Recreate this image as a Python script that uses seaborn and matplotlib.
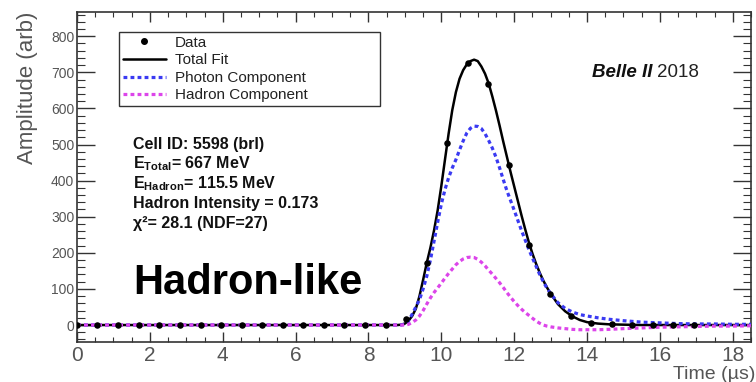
import matplotlib
matplotlib.use("Agg")
import matplotlib.pyplot as plt
import pandas as pd
import seaborn as sns
from matplotlib.ticker import MultipleLocator
from matplotlib.lines import Line2D

# ---------------- data ----------------
sample_time = [0.00, 0.56, 1.13, 1.69, 2.26, 2.82, 3.39, 3.95, 4.52, 5.08,
               5.65, 6.21, 6.78, 7.34, 7.90, 8.47, 9.03, 9.60, 10.16, 10.73,
               11.29, 11.86, 12.42, 12.99, 13.55, 14.12, 14.68, 15.24, 15.81,
               16.37, 16.94]
sample_amp = [1, 0, 1, 0, -1, 1, 0, 0, 1, -1,
              0, 1, 0, 0, 1, 0, 16, 172, 505, 727,
              667, 442, 222, 86, 25, 6, 2, 1, 0,
              1, 0]

curve_time = [0.0, 8.8, 8.9, 9.0, 9.1, 9.2, 9.3, 9.4, 9.5, 9.6, 9.7, 9.8, 9.9,
              10.0, 10.1, 10.2, 10.3, 10.4, 10.5, 10.6, 10.7, 10.8, 10.9,
              11.0, 11.1, 11.2, 11.3, 11.4, 11.5, 11.6, 11.7, 11.8, 11.9,
              12.0, 12.1, 12.2, 12.3, 12.4, 12.5, 12.6, 12.7, 12.8, 12.9,
              13.0, 13.2, 13.4, 13.6, 13.8, 14.0, 14.3, 14.6, 15.0, 15.5,
              16.0, 16.5, 17.0, 17.5, 18.0, 18.5]
total_fit = [0, 0, 1, 4, 12, 25, 45, 80, 125, 172, 214, 262, 318,
             385, 458, 530, 595, 645, 682, 706, 722, 731, 735,
             731, 716, 696, 669, 633, 594, 552, 508, 466, 424,
             384, 344, 304, 266, 230, 198, 170, 145, 123, 104,
             87, 58, 38, 24, 14, 8, 4, 2, 1, 0,
             0, 0, 0, 0, 0, 0]
photon_comp = [0, 0, 0, 3, 12, 30, 50, 70, 100, 135, 180, 232, 285,
               335, 375, 408, 435, 458, 485, 510, 532, 545, 551,
               550, 544, 530, 511, 490, 465, 435, 403, 372, 345,
               318, 290, 262, 236, 210, 186, 163, 140, 120, 102,
               87, 62, 46, 36, 29, 25, 20, 16, 12, 8,
               6, 4, 3, 3, 2, 2]
hadron_comp = [0, 0, 0, 0, 2, 7, 14, 25, 40, 58, 75, 90, 103,
               116, 130, 143, 155, 167, 176, 183, 187, 188, 187,
               182, 174, 164, 152, 141, 129, 117, 104, 90, 77,
               65, 54, 44, 35, 27, 19, 11, 5, 0, -3,
               -5, -8, -10, -12, -13, -13, -13, -12, -10, -8,
               -6, -5, -4, -3, -3, -2]

legend_labels = ["Data", "Total Fit", "Photon Component", "Hadron Component"]
info_lines = ["Cell ID: 5598 (brl)",
              r"$\mathbf{E}_{\mathbf{Total}}$= 667 MeV",
              r"$\mathbf{E}_{\mathbf{Hadron}}$= 115.5 MeV",
              "Hadron Intensity = 0.173",
              "\u03c7\u00b2= 28.1 (NDF=27)"]

BLUE = "#3a3af2"
MAGENTA = "#dc45ea"
GREY = "#555555"

# ---------------- style ----------------
sns.set_theme(style="ticks")
plt.rcParams["font.family"] = ["Liberation Sans", "DejaVu Sans"]
plt.rcParams["mathtext.fontset"] = "custom"
plt.rcParams["mathtext.rm"] = "Liberation Sans"
plt.rcParams["mathtext.bf"] = "Liberation Sans:bold"
plt.rcParams["mathtext.it"] = "Liberation Sans:italic"

W, H = 756, 382
fig = plt.figure(figsize=(W / 100, H / 100), dpi=100)
ax = fig.add_axes([77 / W, 1 - 342 / H, 674 / W, 330 / H])


def fx(px):
    return px / W


def fy(py):
    return 1 - py / H


curves = pd.DataFrame({"t": curve_time, "total": total_fit,
                       "photon": photon_comp, "hadron": hadron_comp})
samples = pd.DataFrame({"t": sample_time, "amp": sample_amp})

sns.lineplot(data=curves, x="t", y="total", ax=ax, color="black",
             lw=1.8, zorder=3)
sns.lineplot(data=curves, x="t", y="photon", ax=ax, color=BLUE,
             lw=2.3, linestyle=(0, (1.2, 1.0)), zorder=4)
sns.lineplot(data=curves, x="t", y="hadron", ax=ax, color=MAGENTA,
             lw=2.3, linestyle=(0, (1.2, 1.0)), zorder=4)
sns.scatterplot(data=samples, x="t", y="amp", ax=ax, color="black",
                s=22, linewidth=0, zorder=5)

ax.set_xlim(0, 18.5)
ax.set_ylim(-47, 867)
ax.set_xlabel("")
ax.set_ylabel("")
ax.grid(False)

ax.xaxis.set_major_locator(MultipleLocator(2))
ax.xaxis.set_minor_locator(MultipleLocator(0.5))
ax.yaxis.set_major_locator(MultipleLocator(100))
ax.yaxis.set_minor_locator(MultipleLocator(20))

ax.tick_params(which="both", direction="in", top=True, right=True,
               color="#333333", labelcolor=GREY)
ax.tick_params(axis="x", which="major", length=7, width=1.0,
               labelsize=15, pad=3)
ax.tick_params(axis="x", which="minor", length=3.5, width=0.8)
ax.tick_params(axis="y", which="major", length=13, width=1.0,
               labelsize=10, pad=2)
ax.tick_params(axis="y", which="minor", length=6, width=0.8)
for sp in ax.spines.values():
    sp.set_color("#333333")
    sp.set_linewidth(1.2)

# legend
handles = [Line2D([], [], marker="o", ls="none", color="black", markersize=4),
           Line2D([], [], color="black", lw=1.8),
           Line2D([], [], color=BLUE, lw=2.3, ls=(0, (1.2, 1.0))),
           Line2D([], [], color=MAGENTA, lw=2.3, ls=(0, (1.2, 1.0)))]
leg = ax.legend(handles, legend_labels, loc="upper left",
                bbox_to_anchor=((119 - 77) / 674, (342 - 32) / 330,
                                (380 - 119) / 674, 0),
                mode="expand", borderaxespad=0, fontsize=11,
                handlelength=2.8, handletextpad=0.6, labelspacing=0.23,
                borderpad=0.25, fancybox=False, framealpha=1,
                edgecolor="#333333")
leg.get_frame().set_linewidth(1.0)
for txt in leg.get_texts():
    txt.set_color("#222222")

# info text block
baselines = [149, 168, 188, 208, 228]
for line, b in zip(info_lines, baselines):
    fig.text(fx(133), fy(b), line, fontsize=11.5, fontweight="bold",
             color="#111111", va="baseline", ha="left")

fig.text(fx(133), fy(294), "Hadron-like", fontsize=30, fontweight="bold",
         color="black", va="baseline", ha="left")

# Belle II 2018
t1 = fig.text(fx(592), fy(77), "Belle II", fontsize=13.5, fontweight="bold",
              fontstyle="italic", color="#111111", va="baseline", ha="left")
renderer = fig.canvas.get_renderer()
bb = t1.get_window_extent(renderer)
fig.text((bb.x1 + 5) / W, fy(77), "2018", fontsize=13.5, color="#222222",
         va="baseline", ha="left")

# axis titles
fig.text(fx(28), fy(12), "Amplitude (arb)", rotation=90, fontsize=16,
         color=GREY, ha="center", va="top")
fig.text(0.999, fy(366), "Time (\u00b5s)", fontsize=14, color=GREY,
         ha="right", va="top")

fig.savefig("out.png", dpi=100)
